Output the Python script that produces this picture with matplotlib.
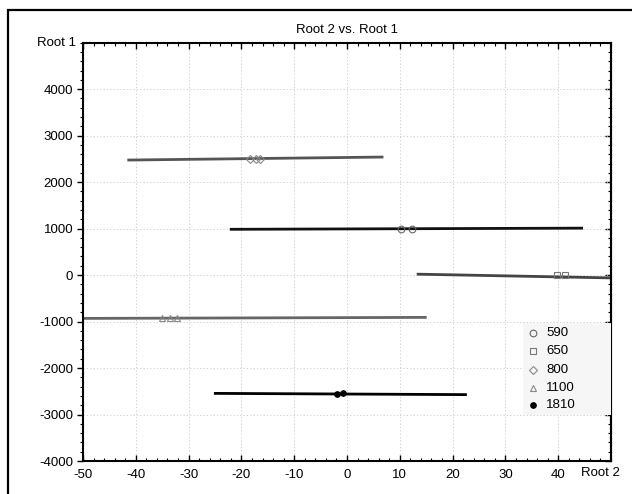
import matplotlib
matplotlib.use("Agg")
import matplotlib.pyplot as plt
from matplotlib.patches import Rectangle
from matplotlib.ticker import MultipleLocator

plt.rcParams['font.family'] = ['Liberation Sans Narrow', 'Liberation Sans', 'DejaVu Sans']

# ---- data ----
groups = ['590', '650', '800', '1100', '1810']
markers = ['o', 's', 'D', '^', 'o']
filled = [False, False, False, False, True]
line_colors = ['#111111', '#444444', '#555555', '#666666', '#000000']
marker_edge = ['#666666', '#777777', '#888888', '#888888', '#000000']

# group points (Root 2, Root 1)
pts_x = [[10.2, 12.3], [39.8, 41.3], [-18.3, -17.3, -16.4], [-35.0, -33.6, -32.2], [-1.9, -0.8]]
pts_y = [[1000, 1000], [10, 10], [2500, 2500, 2500], [-930, -930, -930], [-2550, -2545]]

# fitted lines per group: endpoints
line_x0 = [-22.2, 13.2, -41.6, -50.0, -25.2]
line_x1 = [44.7, 52.0, 6.9, 15.1, 22.7]
line_y0 = [985, 20, 2475, -932, -2545]
line_y1 = [1010, -65, 2540, -910, -2572]

xticks = [-50, -40, -30, -20, -10, 0, 10, 20, 30, 40]
yticks = [-4000, -3000, -2000, -1000, 0, 1000, 2000, 3000, 4000]

fig = plt.figure(figsize=(6.32, 4.94), dpi=100)
ax = fig.add_axes([83/632, 1-461/494, (611-83)/632, (461-42.7)/494])

def mstyle(i):
    if filled[i]:
        return dict(marker=markers[i], ms=4, mfc='black', mec='black', mew=0.8)
    return dict(marker=markers[i], ms=4.8 if markers[i] != 'D' else 4.3,
                mfc='none', mec=marker_edge[i], mew=0.8)

for i, g in enumerate(groups):
    ax.plot([line_x0[i], line_x1[i]], [line_y0[i], line_y1[i]],
            color=line_colors[i], lw=2.0, solid_capstyle='butt', zorder=2)
    ax.plot(pts_x[i], pts_y[i], linestyle='none', zorder=3, **mstyle(i))

ax.set_xlim(-50, 50)
ax.set_ylim(-4000, 5000)
ax.set_xticks(xticks)
ax.set_yticks(yticks)
ax.set_xticklabels([str(t) for t in xticks])
ax.set_yticklabels([str(t) for t in yticks])
ax.xaxis.set_minor_locator(MultipleLocator(2))
ax.yaxis.set_minor_locator(MultipleLocator(200))
ax.tick_params(axis='both', which='both', labelsize=9.5, colors='black')
ax.tick_params(axis='x', which='both', direction='in', top=True, bottom=True, pad=6)
ax.tick_params(axis='y', which='both', direction='out', left=True, right=False, pad=3)
ax.tick_params(which='major', length=4, width=1)
ax.tick_params(which='minor', length=2, width=0.8)
ax.grid(True, which='major', linestyle=(0, (1.5, 2.5)), color='#c8c8c8', lw=0.6)
ax.set_axisbelow(True)
for s in ax.spines.values():
    s.set_linewidth(1.5)

# right spine inward ticks
sec = ax.secondary_yaxis('right')
sec.set_yticks(yticks)
sec.yaxis.set_minor_locator(MultipleLocator(200))
sec.tick_params(which='both', direction='in', labelright=False)
sec.tick_params(which='major', length=4, width=1)
sec.tick_params(which='minor', length=2, width=0.8)
sec.spines['right'].set_linewidth(1.5)

# axis name labels in place of last tick labels
ax.text(-0.0125, 1.0, 'Root 1', transform=ax.transAxes, ha='right', va='center', fontsize=9.5)
ax.text(1.017, -0.015, 'Root 2', transform=ax.transAxes, ha='right', va='top', fontsize=9.5)

ax.set_title('Root 2 vs. Root 1', fontsize=9.5, pad=7)

# legend (manual, light gray box at right)
ax.add_patch(Rectangle((0.833, 0.110), 0.167, 0.220, transform=ax.transAxes,
                       facecolor='#f6f6f6', edgecolor='none', zorder=4))
leg_y = [0.306, 0.263, 0.218, 0.175, 0.134]
for i, g in enumerate(groups):
    ax.plot([0.852], [leg_y[i]], transform=ax.transAxes, linestyle='none',
            zorder=5, clip_on=False, **mstyle(i))
    ax.text(0.877, leg_y[i], g, transform=ax.transAxes, ha='left', va='center',
            fontsize=9.5, zorder=5)

# outer frame
fig.patches.append(Rectangle((8/632, -0.05), 1.1, 1 - 10/494 + 0.05, transform=fig.transFigure,
                             fill=False, edgecolor='black', lw=1.6))

fig.savefig('out.png', dpi=100)
